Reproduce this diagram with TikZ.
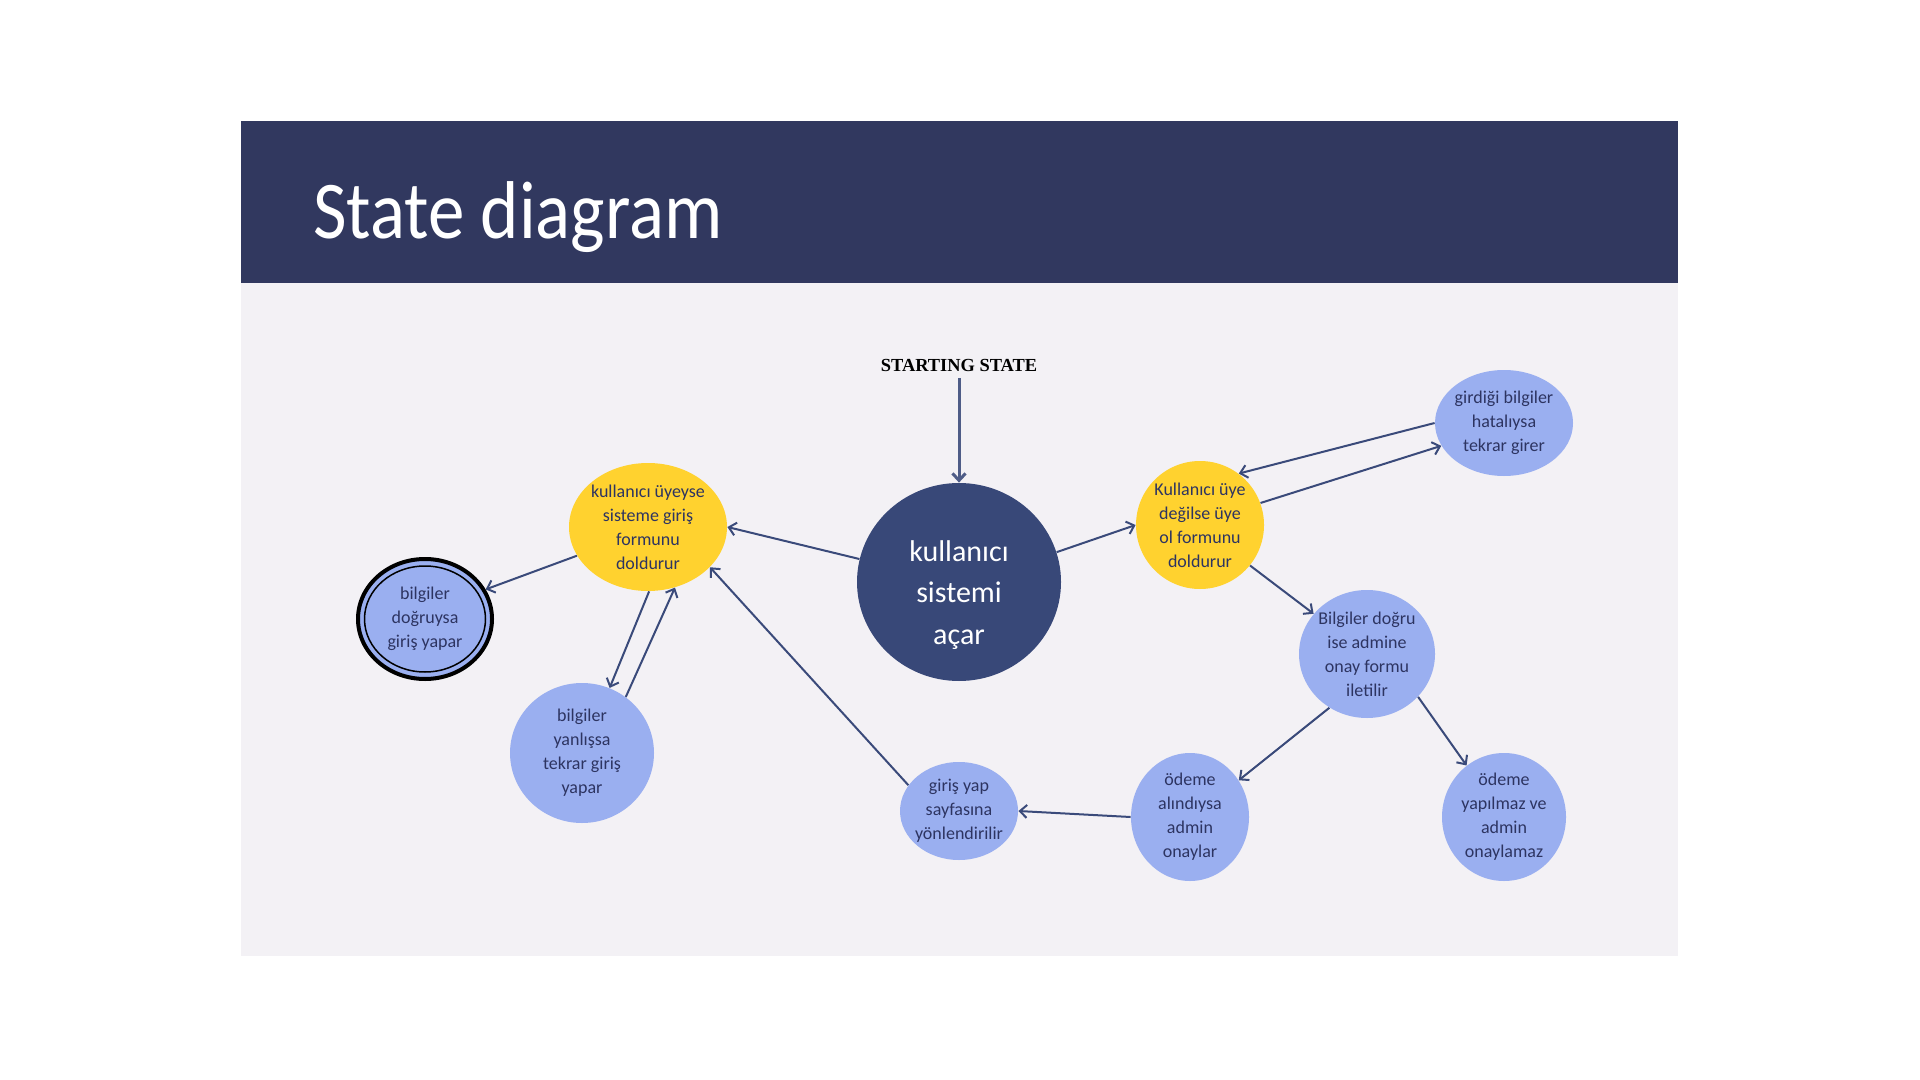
\documentclass[tikz,border=0pt]{standalone}
\usepackage{fontspec}
\setmainfont{Carlito}
\newfontfamily\titlefont[FakeStretch=0.89]{Carlito}
\newfontfamily\startfont{Liberation Serif}
\usetikzlibrary{arrows.meta}
\usetikzlibrary{shapes}

\definecolor{bandblue}{HTML}{31385F}
\definecolor{panelgrey}{HTML}{F3F1F5}
\definecolor{navyfill}{HTML}{384878}
\definecolor{formyellow}{HTML}{FFD22F}
\definecolor{stateblue}{HTML}{9AAFF0}
\definecolor{inkblue}{HTML}{2D3461}
\definecolor{edgeblue}{HTML}{3A4A7A}

\tikzset{
 blob/.style={ellipse, inner sep=0pt},
 txt/.style={align=center, text=inkblue, font=\fontsize{9}{12}\selectfont},
 edge/.style={draw=edgeblue, line width=1pt, -{Straight Barb[length=3.5pt,width=6.5pt]}},
}

\begin{document}
\begin{tikzpicture}[x=0.5pt,y=-0.5pt]
 \useasboundingbox (0,0) rectangle (1920,1080);
 \fill[white] (0,0) rectangle (1920,1080);
 \fill[panelgrey] (241,283) rectangle (1678,956);
 \fill[bandblue] (241,121) rectangle (1678,283);
 \node[anchor=base west, text=white, font=\titlefont\fontsize{41}{41}\selectfont] (title) at (306,239) {State diagram};
 \node[font=\startfont\bfseries\fontsize{9.2}{10}\selectfont] (start) at (959,365) {STARTING STATE};

 % states
 \node[blob, fill=navyfill, minimum width=102pt, minimum height=99pt, label={[txt, text=white, yshift=-6.5pt, font=\fontsize{15}{20.8}\selectfont]center:kullanıcı\\sistemi\\açar}] (acar) at (959,582) {};
 \node[blob, fill=formyellow, minimum width=79pt, minimum height=64pt, label={[txt]center:kullanıcı üyeyse\\sisteme giriş\\formunu\\doldurur}] (uye) at (648,527) {};
 \node[blob, fill=formyellow, minimum width=64pt, minimum height=64pt, label={[txt]center:Kullanıcı üye\\değilse üye\\ol formunu\\doldurur}] (uyedegil) at (1200,525) {};
 \node[blob, fill=stateblue, minimum width=69pt, minimum height=53pt, label={[txt]center:girdiği bilgiler\\hatalıysa\\tekrar girer}] (hata) at (1504,423) {};
 \node[blob, fill=stateblue, minimum width=68pt, minimum height=64pt, label={[txt]center:Bilgiler doğru\\ise admine\\onay formu\\iletilir}] (onayform) at (1367,654) {};
 \node[blob, fill=stateblue, minimum width=59pt, minimum height=64pt, label={[txt]center:ödeme\\alındıysa\\admin\\onaylar}] (odendi) at (1190,817) {};
 \node[blob, fill=stateblue, minimum width=62pt, minimum height=64pt, label={[txt]center:ödeme\\yapılmaz ve\\admin\\onaylamaz}] (odenmedi) at (1504,817) {};
 \node[blob, fill=stateblue, minimum width=59pt, minimum height=49pt, label={[txt]center:giriş yap\\sayfasına\\yönlendirilir}] (girisyap) at (959,811) {};
 \node[blob, fill=stateblue, minimum width=72pt, minimum height=70pt, label={[txt]center:bilgiler\\yanlışsa\\tekrar giriş\\yapar}] (yanlis) at (582,753) {};
 \node[blob, fill=stateblue, draw=black, line width=2pt, minimum width=67pt, minimum height=60pt, label={[txt]center:bilgiler\\doğruysa\\giriş yapar}] (dogru) at (425,619) {};
 \draw[line width=0.75pt] (dogru.center) ellipse [x radius=30.25pt, y radius=26.5pt];

 % transitions
 \draw[edge, draw=edgeblue!90!white, line width=1.5pt] (start) -- (acar.north);
 \draw[edge] (acar.167) -- (uye.0);
 \draw[edge] (acar.17) -- (uyedegil.180);
 \draw[edge] (uye.202) -- (dogru.26);
 \draw[edge] (uye.271) -- (yanlis.67);
 \draw[edge] (yanlis.52) -- (uye.294);
 \draw[edge] (girisyap.153) -- (uye.327);
 \draw[edge] (uyedegil.20) -- (hata.200);
 \draw[edge] (hata.180) -- (uyedegil.53);
 \draw[edge] (uyedegil.321) -- (onayform.143);
 \draw[edge] (onayform.235) -- (odendi.37);
 \draw[edge] (onayform.320) -- (odenmedi.126);
 \draw[edge] (odendi.180) -- (girisyap.0);
\end{tikzpicture}
\end{document}
